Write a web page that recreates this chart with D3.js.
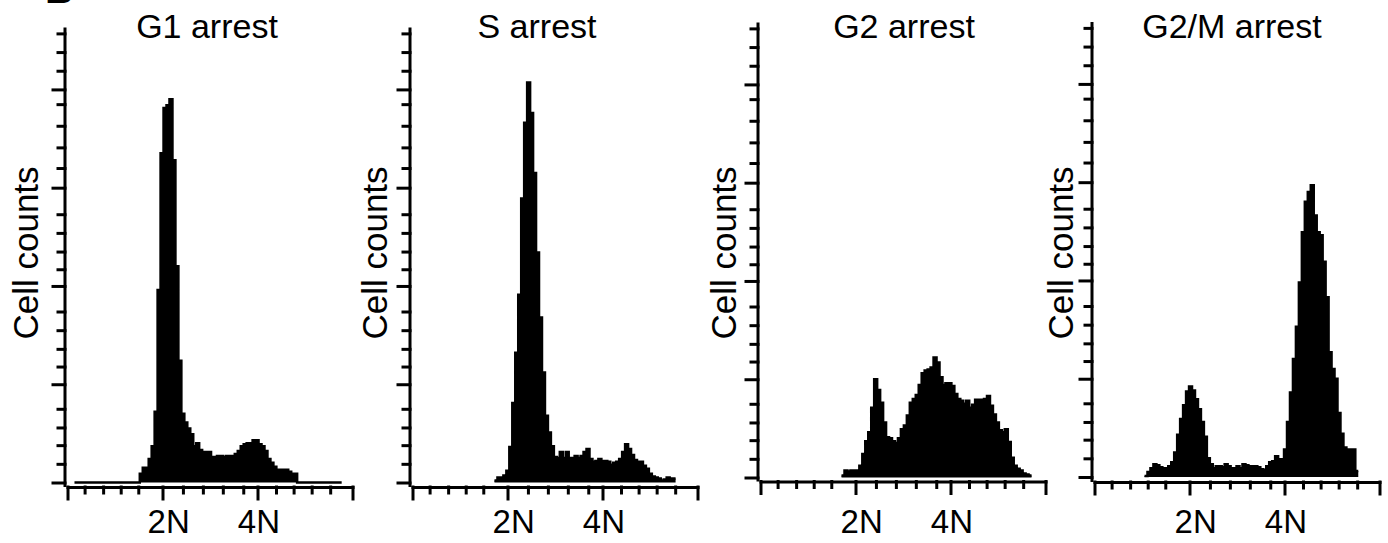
<!DOCTYPE html>
<meta charset="utf-8">
<style>

body {
  margin: 0;
  background: #fff;
}

text {
  font-family: "Liberation Sans", Arial, sans-serif;
  fill: #000;
}

.axis path,
.axis line {
  stroke: #000;
  stroke-width: 3px;
  stroke-linecap: square;
}

.hist-fill {
  fill: #000;
  stroke: none;
}

.hist-line {
  fill: none;
  stroke: #000;
  stroke-width: 2.5px;
}

</style>
<svg width="1388" height="543">
  <rect fill="#fff" width="100%" height="100%"></rect>
</svg>
<script src="https://d3js.org/d3.v7.min.js"></script>
<script>

// DNA content histograms, x in units of N, bins of 1/16 N
var titles = ["G1 arrest", "S arrest", "G2 arrest", "G2/M arrest"];
var binWidth = 0.0625;
var binStarts = [0.147, 1.726, 1.706, 1.053];

var g1Counts = [
  0, 0, 0, 0, 0, 0, 0, 0, 0, 0, 0, 0, 0, 0, 0, 0, 0, 0, 0, 0, 0, 0,
  9, 15, 15, 24, 37, 72, 196, 335, 381, 384, 390, 328, 220, 124, 70,
  61, 55, 49, 37, 40, 33, 31, 31, 31, 26, 26, 27, 27, 26, 27, 27, 27,
  29, 32, 37, 39, 40, 40, 43, 43, 39, 37, 32, 24, 20, 16, 13, 13, 13,
  13, 11, 9, 9,
  0, 0, 0, 0, 0, 0, 0, 0, 0, 0, 0, 0, 0, 0, 0
];

var sCounts = [
  2, 5, 5, 7, 12, 36, 81, 132, 191, 289, 366, 407, 376, 315, 234, 168,
  112, 68, 51, 37, 26, 25, 31, 25, 31, 25, 25, 27, 25, 27, 31, 34, 24,
  21, 22, 24, 22, 22, 21, 18, 20, 21, 24, 31, 39, 34, 28, 23, 21, 21,
  17, 14, 9, 6, 5, 4, 2, 3, 5, 4, 4
];

var g2Counts = [
  2, 7, 6, 7, 7, 7, 12, 24, 37, 46, 71, 100, 89, 76, 56, 41, 40, 37, 35,
  40, 49, 53, 63, 76, 80, 84, 94, 106, 109, 110, 112, 122, 117, 102, 94,
  96, 96, 93, 85, 80, 78, 75, 78, 71, 74, 79, 79, 79, 80, 83, 73, 64, 56,
  48, 46, 49, 36, 20, 12, 9, 7, 4, 3, 2
];

var g2mCounts = [
  1, 5, 9, 13, 12, 10, 9, 9, 11, 15, 25, 43, 59, 73, 87, 92, 88, 79, 69,
  56, 41, 19, 13, 9, 11, 11, 10, 13, 11, 9, 9, 11, 9, 13, 12, 11, 11, 11,
  10, 8, 7, 11, 15, 16, 21, 18, 18, 28, 56, 86, 120, 153, 198, 249, 280,
  290, 297, 266, 249, 246, 219, 183, 127, 110, 100, 65, 44, 30, 28, 28,
  28, 6
];

var allCounts = [g1Counts, sCounts, g2Counts, g2mCounts];

var xDomain = [0, 6];
var xMajor = [0, 2, 4, 6];
var xMinor = [0.36, 0.75, 1.12, 1.49, 2.43, 2.85, 3.27, 3.7, 4.39, 4.76, 5.14, 5.53];
var xLabels = ["2N", "4N"];
var xLabelAt = [2.13, 4.03];

var yDomain = [0, 463];
var yMajor = [0, 100, 200, 300, 400];
var yMinor = [19, 38, 56, 75, 118, 136, 155, 174, 217, 235, 254, 273,
              320, 341, 363, 385, 419, 438, 457];

// panel placement on the page
var panels = [
  {ax: 65,   y0: 482.5, xAxisY: 487,   titleX: 207,  labelX: 38},
  {ax: 410,  y0: 482.5, xAxisY: 487,   titleX: 537,  labelX: 387},
  {ax: 758,  y0: 477.5, xAxisY: 481.5, titleX: 904,  labelX: 736},
  {ax: 1092, y0: 477,   xAxisY: 482,   titleX: 1232, labelX: 1073}
];
var plotW = 285,
    plotH = 455,
    titleY = 38,
    tickLabelY = 533,
    labelCenterY = 253;

var svg = d3.select("svg");

// panel letter, cut off by the top edge as in the source figure
svg.append("text")
    .attr("x", 45)
    .attr("y", 3)
    .style("font-size", "40px")
    .style("font-weight", "bold")
    .text("B");

panels.forEach(function(p, k) {
  var x = d3.scaleLinear()
      .domain(xDomain)
      .range([p.ax + 2.5, p.ax + 2.5 + plotW]);

  var y = d3.scaleLinear()
      .domain(yDomain)
      .range([p.y0, p.y0 - plotH]);

  var g = svg.append("g");

  var pts = allCounts[k].map(function(c, i) {
    return [binStarts[k] + i * binWidth, c];
  });
  pts.push([binStarts[k] + pts.length * binWidth, pts[pts.length - 1][1]]);

  var area = d3.area()
      .curve(d3.curveStepAfter)
      .x(function(d) { return x(d[0]); })
      .y0(y(0))
      .y1(function(d) { return y(d[1]); });

  var line = d3.line()
      .curve(d3.curveStepAfter)
      .x(function(d) { return x(d[0]); })
      .y(function(d) { return y(d[1]); });

  g.append("path").datum(pts).attr("class", "hist-fill").attr("d", area);
  g.append("path").datum(pts).attr("class", "hist-line").attr("d", line);

  // x axis
  g.append("g")
      .attr("class", "axis")
      .attr("transform", "translate(0," + p.xAxisY + ")")
      .call(d3.axisBottom(x).tickValues(xMajor).tickSize(12).tickSizeOuter(0).tickFormat(""));

  g.append("g")
      .attr("class", "axis")
      .attr("transform", "translate(0," + p.xAxisY + ")")
      .call(d3.axisBottom(x).tickValues(xMinor).tickSize(6).tickFormat(""))
      .call(function(a) { a.select(".domain").remove(); });

  // y axis
  g.append("g")
      .attr("class", "axis")
      .attr("transform", "translate(" + p.ax + ",0)")
      .call(d3.axisLeft(y).tickValues(yMajor).tickSize(12).tickFormat(""))
      .call(function(a) { a.select(".domain").remove(); });

  g.append("g")
      .attr("class", "axis")
      .attr("transform", "translate(" + p.ax + ",0)")
      .call(d3.axisLeft(y).tickValues(yMinor).tickSize(7).tickFormat(""))
      .call(function(a) { a.select(".domain").remove(); });

  g.append("line")
      .attr("class", "axis")
      .attr("x1", p.ax)
      .attr("x2", p.ax)
      .attr("y1", y(yDomain[1]))
      .attr("y2", p.xAxisY)
      .style("stroke", "#000")
      .style("stroke-width", "3px");

  // tick labels
  g.selectAll(".xlab")
      .data(xLabels)
    .enter().append("text")
      .attr("x", function(d, i) { return x(xLabelAt[i]); })
      .attr("y", tickLabelY)
      .attr("text-anchor", "middle")
      .style("font-size", "33px")
      .text(function(d) { return d; });

  // title
  g.append("text")
      .attr("x", p.titleX)
      .attr("y", titleY)
      .attr("text-anchor", "middle")
      .style("font-size", "34px")
      .text(titles[k]);

  // axis label
  g.append("text")
      .attr("transform", "translate(" + p.labelX + "," + labelCenterY + ") rotate(-90)")
      .attr("text-anchor", "middle")
      .style("font-size", "35px")
      .text("Cell counts");
});

</script>
